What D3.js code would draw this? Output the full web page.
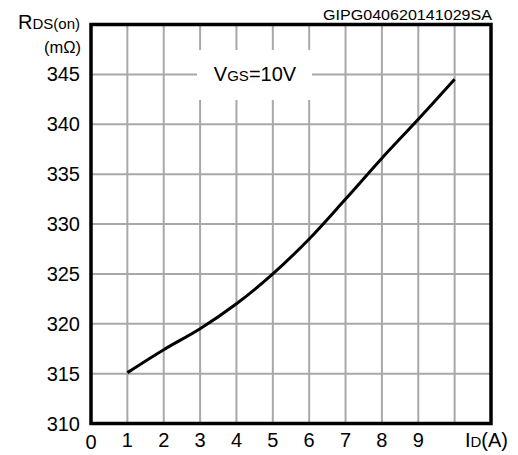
<!DOCTYPE html>
<html>
<head>
<meta charset="utf-8">
<script src="https://cdn.jsdelivr.net/npm/d3@7"></script>
<style>
  html, body { margin: 0; padding: 0; background: #fff; }
  svg { display: block; font-family: "Liberation Sans", Arial, sans-serif; }
</style>
</head>
<body>
<svg id="chart" width="518" height="455"></svg>
<script>
	"use strict";

	/***** Data *****/
	// drain current ID (A)
	var currents = [1, 2, 3, 4, 5, 6, 7, 8, 9, 10];
	// on-resistance RDS(on) (mOhm)
	var resistances = [315.1, 317.4, 319.5, 322.0, 325.0, 328.5, 332.5, 336.6, 340.5, 344.5];

	var xTicks = [0, 1, 2, 3, 4, 5, 6, 7, 8, 9];
	var xGrid = [1, 2, 3, 4, 5, 6, 7, 8, 9, 10];
	var yTicks = [310, 315, 320, 325, 330, 335, 340, 345];
	var yGrid = [315, 320, 325, 330, 335, 340, 345];

(function (d3) {

	/***** Layout *****/
	const plotLeft = 91, plotRight = 491, plotTop = 24.5, plotBottom = 423.5;
	const gridColor = "#a8a8a8";

	var svg = d3.select("#chart");

	// Scales
	var x = d3.scaleLinear().domain([0, 11]).range([plotLeft, plotRight]);
	var y = d3.scaleLinear().domain([310, 350]).range([plotBottom, plotTop]);

	/***** Grid *****/
	svg.append("g").selectAll("line").data(xGrid).join("line")
		.attr("x1", d => x(d)).attr("x2", d => x(d))
		.attr("y1", plotTop).attr("y2", plotBottom)
		.attr("stroke", gridColor).attr("stroke-width", 2);

	svg.append("g").selectAll("line").data(yGrid).join("line")
		.attr("x1", plotLeft).attr("x2", plotRight)
		.attr("y1", d => y(d)).attr("y2", d => y(d))
		.attr("stroke", gridColor).attr("stroke-width", 2);

	// Legend box hides the grid behind the label
	svg.append("rect")
		.attr("x", 197).attr("y", 50).attr("width", 115).attr("height", 50)
		.attr("fill", "#fff");

	var legend = svg.append("text")
		.attr("x", 255).attr("y", 81)
		.attr("text-anchor", "middle")
		.attr("font-size", 20).attr("fill", "#000");
	legend.append("tspan").text("V");
	legend.append("tspan").attr("font-size", 15).text("GS");
	legend.append("tspan").text("=10V");

	/***** Curve *****/
	var points = currents.map((c, i) => [c, resistances[i]]);
	var line = d3.line()
		.x(d => x(d[0]))
		.y(d => y(d[1]))
		.curve(d3.curveCatmullRom);

	svg.append("path")
		.datum(points)
		.attr("d", line)
		.attr("fill", "none")
		.attr("stroke", "#000")
		.attr("stroke-width", 3);

	/***** Frame *****/
	svg.append("rect")
		.attr("x", plotLeft).attr("y", plotTop)
		.attr("width", plotRight - plotLeft).attr("height", plotBottom - plotTop)
		.attr("fill", "none").attr("stroke", "#000").attr("stroke-width", 3.5);

	/***** Axis labels *****/
	svg.append("g").selectAll("text").data(yTicks).join("text")
		.attr("x", 80).attr("y", d => y(d) + 7)
		.attr("text-anchor", "end")
		.attr("font-size", 20)
		.text(d => d);

	svg.append("g").selectAll("text").data(xTicks).join("text")
		.attr("x", d => x(d)).attr("y", d => d === 0 ? 449 : 447)
		.attr("text-anchor", "middle")
		.attr("font-size", 20)
		.text(d => d);

	// y title
	var yTitle = svg.append("text")
		.attr("x", 80).attr("y", 29)
		.attr("text-anchor", "end").attr("font-size", 20);
	yTitle.append("tspan").text("R");
	yTitle.append("tspan").attr("font-size", 15).text("DS(on)");

	svg.append("text")
		.attr("x", 81).attr("y", 53)
		.attr("text-anchor", "end").attr("font-size", 16.5)
		.text("(mΩ)");

	// x title
	var xTitle = svg.append("text")
		.attr("x", 508).attr("y", 447)
		.attr("text-anchor", "end").attr("font-size", 20);
	xTitle.append("tspan").text("I");
	xTitle.append("tspan").attr("font-size", 15).text("D");
	xTitle.append("tspan").text("(A)");

	// figure code
	svg.append("text")
		.attr("x", 323).attr("y", 20)
		.attr("font-size", 14)
		.attr("textLength", 169).attr("lengthAdjust", "spacingAndGlyphs")
		.text("GIPG040620141029SA");

})(d3);
</script>
</body>
</html>
